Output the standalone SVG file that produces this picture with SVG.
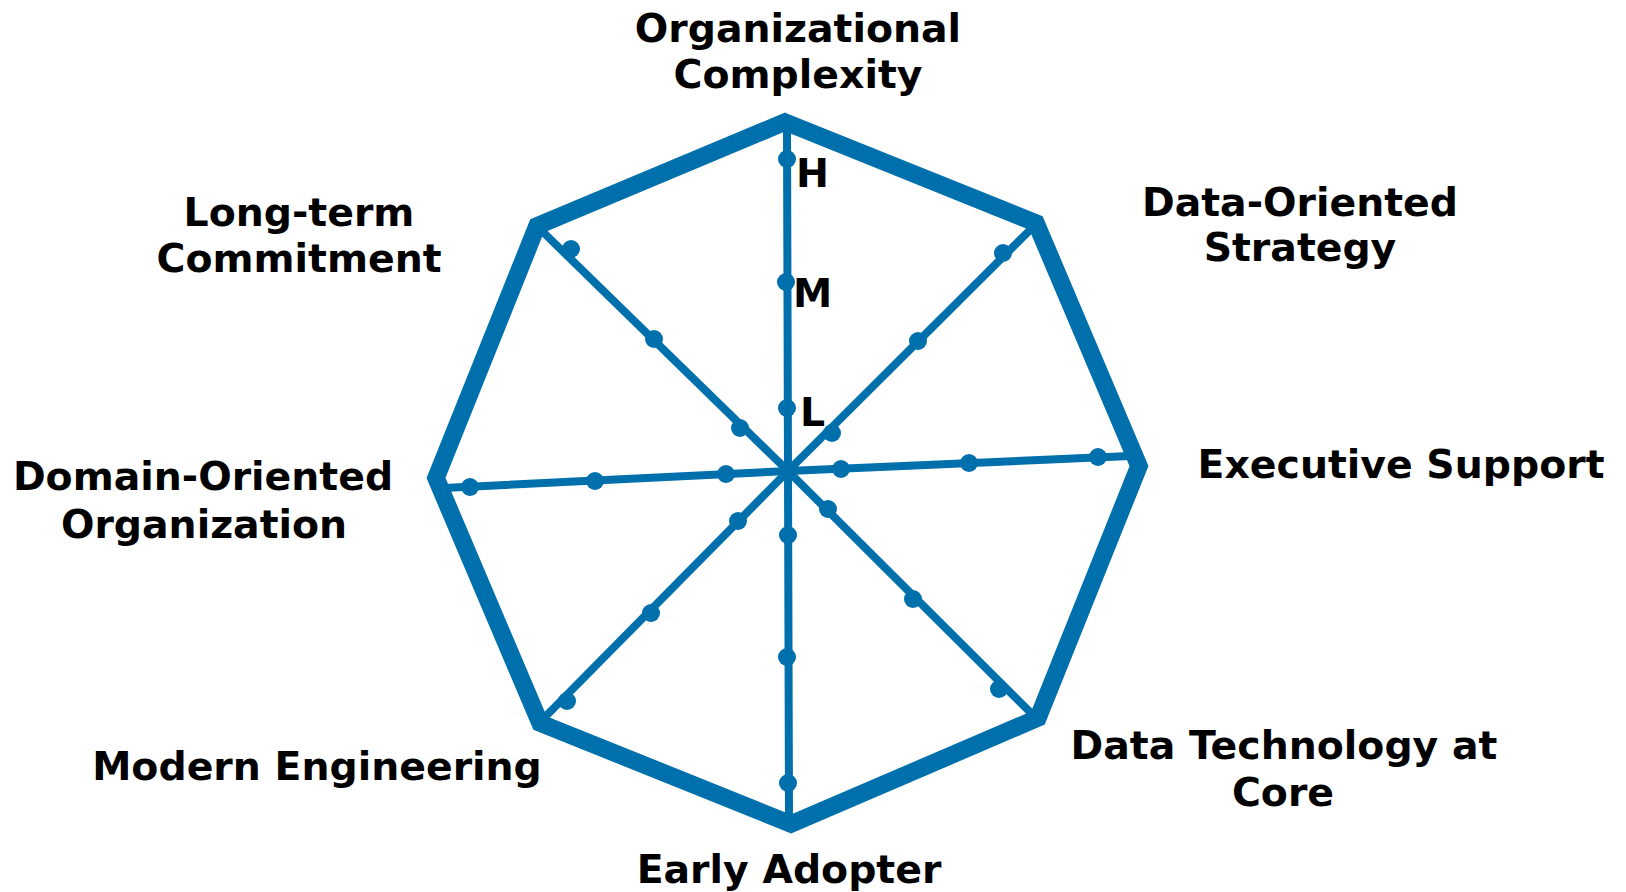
<svg xmlns="http://www.w3.org/2000/svg" width="1626" height="892" viewBox="0 0 1626 892">
<style>
.lbl{font-family:"DejaVu Sans","Verdana",sans-serif;font-weight:bold;font-size:39.4px;fill:#000}
.axis{stroke:#0070AD;stroke-width:8;stroke-linecap:round;fill:none}
.dot{fill:#0070AD}
.oct{stroke:#0070AD;stroke-width:17.5;stroke-linejoin:miter;fill:none}
</style>
<rect width="1626" height="892" fill="#fff"/>
<g id="connectors">
<line class="axis" x1="788" y1="471" x2="787" y2="128"/>
<line class="axis" x1="788" y1="471" x2="1031" y2="229"/>
<line class="axis" x1="788" y1="471" x2="1130" y2="456"/>
<line class="axis" x1="788" y1="471" x2="1032" y2="714"/>
<line class="axis" x1="788" y1="471" x2="789" y2="815"/>
<line class="axis" x1="788" y1="471" x2="546" y2="716"/>
<line class="axis" x1="788" y1="471" x2="444" y2="488"/>
<line class="axis" x1="788" y1="471" x2="543" y2="232"/>
<polygon class="oct" points="785,122 1036,223 1139,466 1038,718 791,824 540,723 436,478 537,226"/>
</g>
<g id="dots">
<circle class="dot" cx="787" cy="408" r="9"/><circle class="dot" cx="786" cy="282" r="9"/><circle class="dot" cx="787" cy="159" r="9"/>
<circle class="dot" cx="832" cy="433" r="9"/><circle class="dot" cx="918" cy="341" r="9"/><circle class="dot" cx="1003" cy="253" r="9"/>
<circle class="dot" cx="841" cy="469" r="9"/><circle class="dot" cx="969" cy="463" r="9"/><circle class="dot" cx="1098" cy="457" r="9"/>
<circle class="dot" cx="828" cy="509" r="9"/><circle class="dot" cx="913" cy="599" r="9"/><circle class="dot" cx="999" cy="689" r="9"/>
<circle class="dot" cx="788" cy="535" r="9"/><circle class="dot" cx="787" cy="657" r="9"/><circle class="dot" cx="788" cy="783" r="9"/>
<circle class="dot" cx="738" cy="521" r="9"/><circle class="dot" cx="651" cy="613" r="9"/><circle class="dot" cx="567" cy="701" r="9"/>
<circle class="dot" cx="726" cy="474" r="9"/><circle class="dot" cx="595" cy="481" r="9"/><circle class="dot" cx="470" cy="487" r="9"/>
<circle class="dot" cx="740" cy="428" r="9"/><circle class="dot" cx="654" cy="339" r="9"/><circle class="dot" cx="571" cy="249" r="9"/>
</g>
<g id="scale-labels">
<text class="lbl" x="796" y="187">H</text>
<text class="lbl" x="793" y="307">M</text>
<text class="lbl" x="800" y="426">L</text>
</g>
<g id="node-org-complexity"><text class="lbl" text-anchor="middle"><tspan x="798" y="42">Organizational</tspan><tspan x="798" y="88">Complexity</tspan></text></g>
<g id="node-data-strategy"><text class="lbl" text-anchor="middle"><tspan x="1300" y="216">Data-Oriented</tspan><tspan x="1300" y="261">Strategy</tspan></text></g>
<g id="node-exec-support"><text class="lbl" text-anchor="middle" x="1401" y="478">Executive Support</text></g>
<g id="node-data-tech"><text class="lbl" text-anchor="middle"><tspan x="1284" y="759">Data Technology at</tspan><tspan x="1283" y="806">Core</tspan></text></g>
<g id="node-early-adopter"><text class="lbl" text-anchor="middle" x="789" y="883">Early Adopter</text></g>
<g id="node-modern-eng"><text class="lbl" text-anchor="middle" x="317" y="780">Modern Engineering</text></g>
<g id="node-domain-org"><text class="lbl" text-anchor="middle"><tspan x="203" y="490">Domain-Oriented</tspan><tspan x="204" y="538">Organization</tspan></text></g>
<g id="node-long-term"><text class="lbl" text-anchor="middle"><tspan x="299" y="226">Long-term</tspan><tspan x="299" y="272">Commitment</tspan></text></g>
</svg>
